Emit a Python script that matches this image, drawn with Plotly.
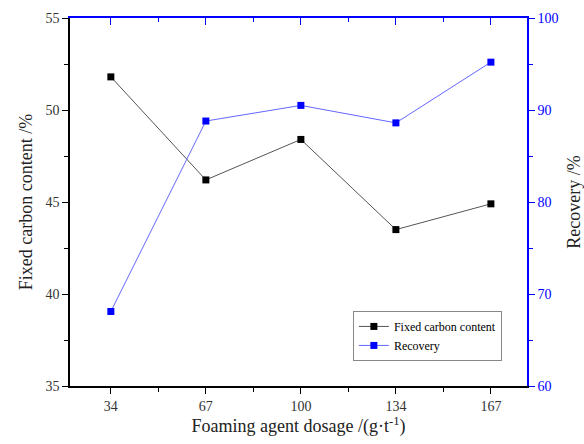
import plotly.graph_objects as go

# Foaming agent dosage (g/t) and measured results
dosage_labels = ["34", "67", "100", "134", "167"]
fixed_carbon = [51.8, 46.2, 48.4, 43.5, 44.9]
recovery = [68.1, 88.8, 90.5, 88.6, 95.2]

positions = list(range(len(dosage_labels)))
label_alias = {p: lab for p, lab in zip(positions, dosage_labels)}
x_range = [-0.43, 4.38]
serif = "Liberation Serif, Times New Roman, serif"
blue = "#0000ff"

fig = go.Figure()

fig.add_trace(go.Scatter(
    x=positions, y=fixed_carbon, name="Fixed carbon content",
    mode="lines+markers",
    line=dict(color="#555555", width=1),
    marker=dict(symbol="square", size=7, color="black"),
    xaxis="x", yaxis="y",
))

fig.add_trace(go.Scatter(
    x=positions, y=recovery, name="Recovery",
    mode="lines+markers",
    line=dict(color="#6666ff", width=1),
    marker=dict(symbol="square", size=7, color=blue),
    xaxis="x2", yaxis="y2",
))

fig.update_layout(
    width=584, height=444,
    margin=dict(l=70, r=57, t=18, b=58),
    paper_bgcolor="white", plot_bgcolor="white",
    font=dict(family=serif, size=14, color="#333333"),
    showlegend=True,
    legend=dict(
        x=0.619, y=0.204, xanchor="left", yanchor="top",
        bgcolor="white", bordercolor="#888888", borderwidth=1,
        font=dict(family=serif, size=12, color="black"),
        tracegroupgap=0, itemwidth=30,
    ),
    xaxis=dict(
        range=x_range, tickmode="linear", tick0=0, dtick=1, labelalias=label_alias,
        showgrid=False, zeroline=False, automargin=False,
        showline=True, linecolor="black", linewidth=1.5,
        ticks="outside", ticklen=6, tickwidth=1, tickcolor="black",
        minor=dict(tick0=0, dtick=0.5, ticks="outside",
                   ticklen=4, tickwidth=1, tickcolor="black", showgrid=False),
        title=dict(text="Foaming agent dosage /(g·t<sup>-1</sup>)",
                   font=dict(family=serif, size=18, color="#222222"), standoff=6),
        tickfont=dict(family=serif, size=14, color="#333333"),
    ),
    xaxis2=dict(
        overlaying="x", side="top", anchor="y",
        range=x_range, tickmode="linear", tick0=0, dtick=1, showticklabels=False,
        showgrid=False, zeroline=False, automargin=False,
        showline=True, linecolor=blue, linewidth=1.5,
        ticks="inside", ticklen=7, tickwidth=1, tickcolor=blue,
        minor=dict(tick0=0, dtick=0.5, ticks="inside",
                   ticklen=4, tickwidth=1, tickcolor=blue, showgrid=False),
    ),
    yaxis=dict(
        range=[35, 55], tickmode="linear", tick0=35, dtick=5,
        showgrid=False, zeroline=False, automargin=False,
        showline=True, linecolor="black", linewidth=1.5,
        ticks="outside", ticklen=6, tickwidth=1, tickcolor="black",
        minor=dict(dtick=2.5, ticks="outside", ticklen=4, tickwidth=1,
                   tickcolor="black", showgrid=False),
        title=dict(text="Fixed carbon content /%",
                   font=dict(family=serif, size=18, color="#222222"), standoff=8),
        tickfont=dict(family=serif, size=14, color="#333333"),
    ),
    yaxis2=dict(
        overlaying="y", side="right", anchor="x2",
        range=[60, 100], tickmode="linear", tick0=60, dtick=10,
        showgrid=False, zeroline=False, automargin=False,
        showline=True, linecolor=blue, linewidth=1.5,
        ticks="outside", ticklen=6, tickwidth=1, tickcolor=blue,
        minor=dict(dtick=5, ticks="outside", ticklen=4, tickwidth=1,
                   tickcolor=blue, showgrid=False),
        title=dict(text="Recovery /%",
                   font=dict(family=serif, size=18, color="#222222"), standoff=16),
        tickfont=dict(family=serif, size=14, color=blue),
    ),
)

fig.write_html("out.html")
